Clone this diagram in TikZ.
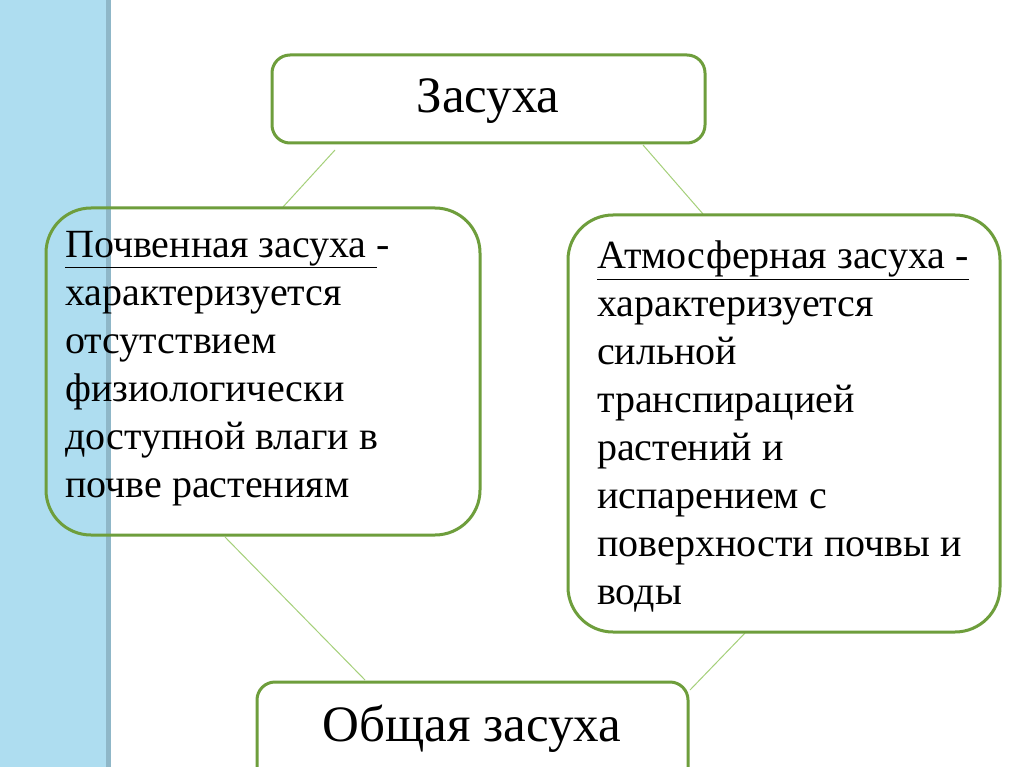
\documentclass[tikz,border=0pt]{standalone}
\usepackage{fontspec}
\setmainfont{Liberation Serif}
\begin{document}
\begin{tikzpicture}[x=1pt,y=-1pt,
  bx/.style={draw=boxg,line width=3pt,rounded corners=#1},
  con/.style={draw=lineg,line width=1pt},
  txt/.style={anchor=north west,align=left,font=\fontsize{40}{48}\selectfont,inner sep=0pt}]
\definecolor{boxg}{HTML}{6E9E3C}
\definecolor{lineg}{HTML}{A5D07A}
\definecolor{stripb}{HTML}{AEDDF0}
\definecolor{stripd}{HTML}{8FB7C8}
\useasboundingbox (0,0) rectangle (1024,767);
\fill[white] (0,0) rectangle (1024,767);
\fill[stripb] (0,0) rectangle (106,767);
\fill[stripd] (106,0) rectangle (111,767);
\coordinate (c1a) at (335,150); \coordinate (c1b) at (283,207);
\coordinate (c2a) at (643,145); \coordinate (c2b) at (703,214);
\coordinate (c3a) at (225,537); \coordinate (c3b) at (365,680);
\coordinate (c4a) at (745,633); \coordinate (c4b) at (690,690);
\draw[con] (c1a) -- (c1b); \draw[con] (c2a) -- (c2b);
\draw[con] (c3a) -- (c3b); \draw[con] (c4a) -- (c4b);
\draw[bx=18pt] (272,55) rectangle (705,143);
\node[font=\fontsize{51}{60}\selectfont] (top) at (488,101) {Засуха};
\draw[bx=45pt] (46,208) rectangle (480,535);
\node[txt] (left) at (65,231) {\underline{Почвенная засуха\ }-\\характеризуется\\отсутствием\\физиологически\\доступной влаги в\\почве растениям};
\draw[bx=45pt] (568,215) rectangle (1000,632);
\node[txt] (right) at (597,241) {\underline{Атмосферная засуха -}\\характеризуется\\сильной\\транспирацией\\растений и\\испарением с\\поверхности почвы и\\воды};
\draw[bx=18pt] (257,682) rectangle (688,790);
\node[font=\fontsize{51}{60}\selectfont] (bot) at (472,729) {Общая засуха};
\end{tikzpicture}
\end{document}
